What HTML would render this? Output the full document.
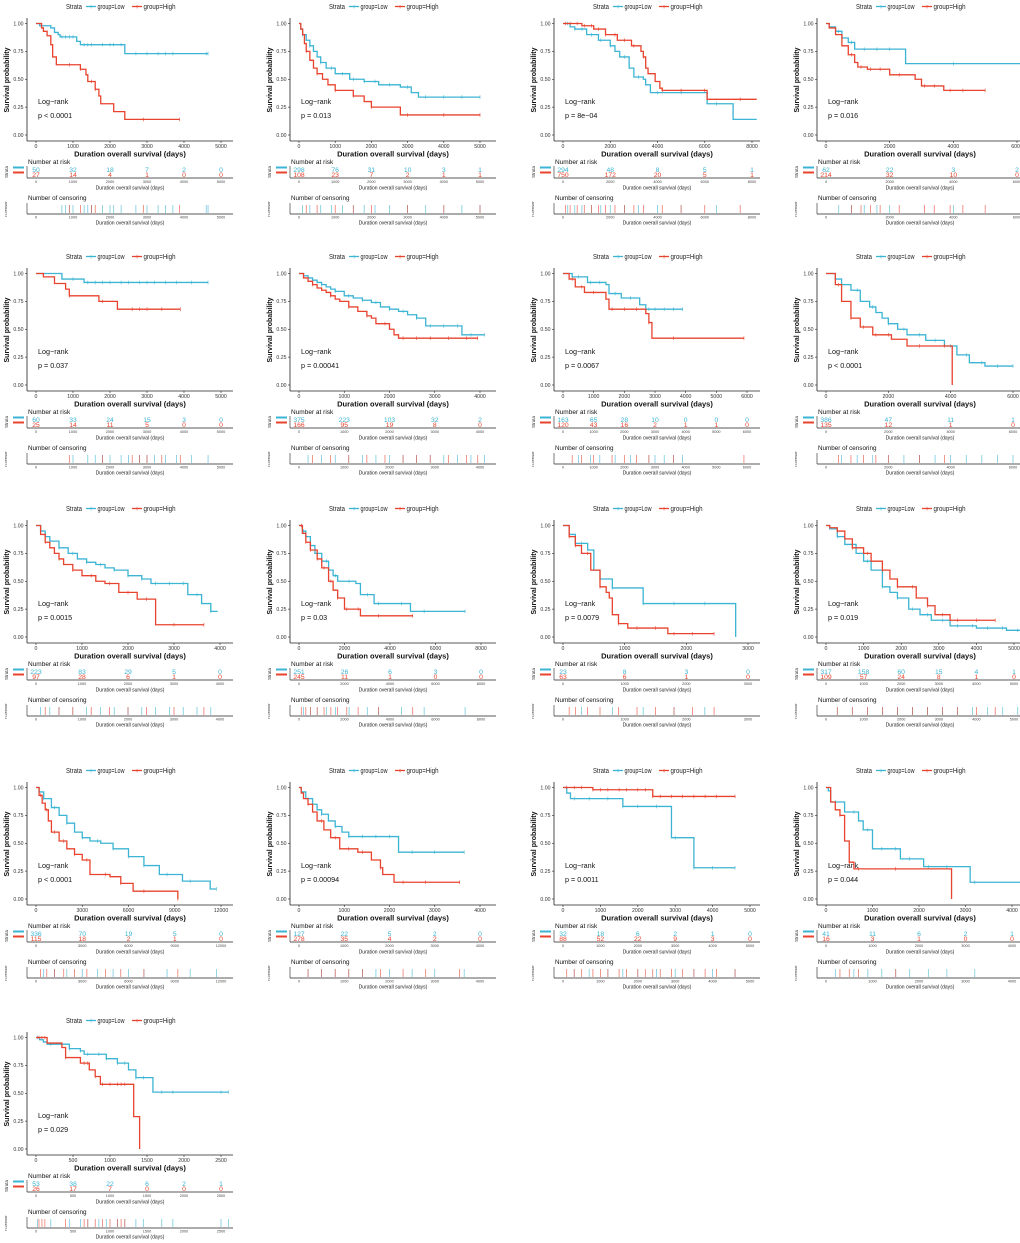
<!DOCTYPE html>
<html><head><meta charset="utf-8"><style>
html,body{margin:0;padding:0;background:#fff}
svg{display:block;font-family:"Liberation Sans",sans-serif}
</style></head><body>
<svg id="fig" width="1020" height="1243" viewBox="0 0 1020 1243" xmlns="http://www.w3.org/2000/svg"></svg>
<script>
const panelTickStep = [1000,1000,2000,2000, 1000,1000,1000,2000, 1000,2000,1000,1000, 3000,1000,1000,1000, 500];
const panelTickMax  = [5000,5000,8000,6000, 5000,4000,6000,6000, 4000,8000,3000,5000, 12000,4000,5000,4000, 2500];
const pvals = ["p < 0.0001","p = 0.013","p = 8e\u221204","p = 0.016","p = 0.037","p = 0.00041","p = 0.0067","p < 0.0001","p = 0.0015","p = 0.03","p = 0.0079","p = 0.019","p < 0.0001","p = 0.00094","p = 0.0011","p = 0.044","p = 0.029"];
const lowT = [
[100,400,500,600,650,1100,1200,2400,4650],
[50,100,200,300,400,500,600,750,1000,1400,1800,2200,2800,3100,3300,5000],
[300,500,1000,1500,2000,2200,2400,2800,3000,3400,3500,3700,6100,7200,8200],
[100,300,500,700,900,2500,6500],
[700,1300,4650],
[100,200,300,400,500,600,700,800,1000,1200,1400,1600,1800,2000,2200,2400,2600,2800,3600,4100],
[300,800,1400,1500,1900,2500,2700,3900],
[300,500,800,1100,1400,1600,1800,2000,2300,2600,3200,3800,4200,4600,5100,6000],
[100,200,300,500,700,900,1100,1300,1500,1700,2000,2300,2500,3300,3600,3800,3950],
[150,300,500,700,1000,1300,1500,1700,2500,2700,3300,4900,7300],
[100,200,400,500,600,800,1300,2800],
[100,300,500,800,1000,1200,1500,1700,1900,2200,2500,2800,3300,4000,4800,5200],
[200,500,1000,1500,2000,2500,3000,3500,4200,5000,6000,7000,8000,9500,11300,11700],
[50,150,300,400,500,650,800,950,1100,2200,3650],
[100,200,1600,2900,3500,4600],
[50,100,400,700,800,1000,1600,2100,3100,4200],
[50,100,150,450,600,650,950,1100,1250,1350,1580,2600]];
const lowS = [
[0.98,0.96,0.92,0.90,0.88,0.84,0.81,0.73,0.73],
[0.95,0.9,0.85,0.8,0.75,0.7,0.65,0.6,0.55,0.5,0.48,0.45,0.43,0.38,0.34,0.34],
[0.97,0.95,0.9,0.85,0.8,0.75,0.7,0.6,0.52,0.5,0.45,0.38,0.28,0.14,0.14],
[0.97,0.93,0.87,0.83,0.77,0.64,0.64],
[0.95,0.92,0.92],
[0.98,0.96,0.94,0.92,0.9,0.88,0.86,0.84,0.8,0.78,0.76,0.74,0.7,0.68,0.66,0.63,0.6,0.53,0.45,0.45],
[0.97,0.92,0.90,0.82,0.78,0.72,0.68,0.68],
[0.95,0.9,0.85,0.75,0.7,0.65,0.6,0.55,0.5,0.45,0.4,0.35,0.27,0.2,0.17,0.17],
[0.95,0.9,0.86,0.8,0.75,0.7,0.67,0.65,0.62,0.6,0.55,0.52,0.48,0.38,0.3,0.23,0.23],
[0.95,0.9,0.82,0.75,0.68,0.6,0.55,0.5,0.48,0.38,0.3,0.23,0.23],
[0.92,0.84,0.78,0.6,0.52,0.44,0.3,0],
[0.97,0.9,0.83,0.75,0.68,0.6,0.45,0.4,0.35,0.25,0.2,0.15,0.1,0.08,0.06,0.06],
[0.96,0.9,0.82,0.75,0.68,0.6,0.55,0.52,0.5,0.45,0.38,0.3,0.22,0.16,0.09,0.09],
[0.96,0.9,0.85,0.8,0.76,0.7,0.65,0.6,0.56,0.42,0.42],
[0.95,0.9,0.83,0.55,0.28,0.28],
[0.97,0.87,0.78,0.7,0.62,0.45,0.36,0.29,0.15,0.15],
[0.98,0.96,0.94,0.9,0.88,0.85,0.81,0.77,0.71,0.64,0.51,0.51]];
const highT = [
[150,200,300,400,450,550,1200,1350,1400,1600,1700,1750,2100,2400,3880],
[50,100,150,200,300,400,500,650,800,1000,1500,1800,2000,2800,5000],
[800,1300,1800,2300,2900,3300,3400,3500,3600,3900,4100,4200,6100,8200],
[100,300,500,700,900,1000,1300,2000,2800,3000,3700,5000],
[200,500,800,900,1700,2200,3900],
[100,200,300,400,500,600,700,800,900,1100,1300,1500,1600,1700,2000,2100,2200,3950],
[200,400,700,1400,1500,2700,2800,2900,5900],
[300,500,800,1100,1500,2100,2600,4050],
[100,200,300,400,500,600,800,1000,1300,1500,1800,2200,2600,3650],
[150,300,500,800,1000,1300,1500,1700,2000,2700,5000],
[100,200,300,450,600,700,750,800,900,1050,1700,2450],
[100,300,500,700,1000,1200,1500,1700,1900,2400,2700,2900,3300,4500],
[200,400,600,800,1000,1500,2000,2500,3000,3500,4800,5500,6300,9200],
[50,100,200,300,400,550,700,900,1300,1600,1800,1850,2100,3550],
[800,2400,4600],
[100,200,300,400,500,600,2700],
[150,350,400,600,720,800,870,1320,1400]];
const highS = [
[0.96,0.93,0.89,0.81,0.70,0.63,0.59,0.54,0.48,0.41,0.35,0.28,0.21,0.14,0.14],
[0.95,0.9,0.82,0.75,0.67,0.6,0.55,0.5,0.45,0.4,0.35,0.3,0.25,0.18,0.18],
[0.98,0.95,0.9,0.85,0.8,0.75,0.7,0.6,0.55,0.48,0.42,0.40,0.32,0.32],
[0.96,0.9,0.8,0.72,0.65,0.61,0.59,0.54,0.5,0.44,0.40,0.40],
[0.97,0.91,0.86,0.80,0.75,0.68,0.68],
[0.96,0.93,0.9,0.87,0.85,0.83,0.8,0.77,0.75,0.7,0.66,0.62,0.6,0.55,0.5,0.45,0.42,0.42],
[0.95,0.88,0.83,0.77,0.68,0.64,0.56,0.42,0.42],
[0.9,0.75,0.6,0.52,0.45,0.41,0.35,0],
[0.92,0.85,0.8,0.75,0.7,0.65,0.6,0.55,0.5,0.48,0.4,0.34,0.11,0.11],
[0.93,0.85,0.78,0.7,0.62,0.5,0.42,0.35,0.25,0.19,0.19],
[0.9,0.82,0.75,0.6,0.45,0.4,0.35,0.2,0.12,0.08,0.03,0.03],
[0.98,0.95,0.88,0.8,0.75,0.68,0.6,0.52,0.45,0.35,0.28,0.2,0.15,0.15],
[0.93,0.86,0.8,0.7,0.6,0.52,0.45,0.4,0.35,0.22,0.2,0.14,0.07,0],
[0.95,0.9,0.85,0.78,0.7,0.62,0.55,0.45,0.42,0.35,0.28,0.22,0.15,0.15],
[0.98,0.92,0.92],
[0.87,0.8,0.75,0.52,0.33,0.27,0],
[0.95,0.91,0.82,0.77,0.71,0.65,0.58,0.29,0]];
const censorLow = [
[700,800,900,1000,1300,1400,1500,1800,2000,2100,2300,2700,3000,3300,3500,3700,4600,4650],
[100,300,600,900,1200,1500,1800,2100,2500,3000,3500,4000,4500,5000],
[200,500,800,1200,1600,2000,2600,3200,4000,5000,6500],
[400,800,1200,1600,2000,4000,6500],
[1000,1400,1600,1800,2000,2300,2500,2800,3000,3200,3500,3800,4200,4650],
[200,500,800,1100,1400,1700,2000,2300,2600,2900,3200,3500,3800,4100],
[500,900,1200,1700,2200,2800,3000,3300,3600,3900],
[500,1000,1500,2000,2500,3000,3500,4000,4500,5000,5500,6000],
[100,300,500,800,1100,1400,1700,2000,2300,2600,2900,3200,3500,3800],
[200,500,800,1200,1600,2200,3000,3500,4500,5500,7300],
[300,800,1300,1800,2300],
[300,700,1100,1500,1900,2300,2700,3100,3500,3900,4300,4700,5100],
[500,1200,2000,3000,4000,5000,6000,7000,8500,10000,11700],
[200,500,800,1100,1400,1700,2000,2500,3000,3650],
[300,700,1200,1600,2000,2500,3000,3500,4000,4600],
[200,600,900,1200,1500,1800,2200,2600,3200,4200],
[20,200,450,600,700,850,950,1100,1200,1350,1450,1700,1850,2500,2600]];
const censorHigh = [
[900,1200,1500,1600,2900,3880],
[200,500,1000,1500,2000,3000,4000,5000],
[100,300,600,900,1200,1500,1800,2200,2600,3000,3400,4200,5000,6000,7500],
[800,1100,1400,1700,2300,3100,3400,3900,4300,5000],
[900,1800,2600,2800,3000,3400,3900],
[300,700,1100,1500,1900,2300,2600,2900,3300,3700,3950],
[300,600,1000,1600,2000,2400,2800,3600,5900],
[400,800,1200,1600,2000,3000,3800],
[200,500,800,1200,1600,2000,2400,3000,3650],
[100,300,500,800,1100,1400,1700,2100,2600,3500,5000],
[100,200,400,600,900,1200,1500,1800,2100,2450],
[300,700,1100,1500,1900,2300,2700,3100,3500,4000,4500],
[300,700,1200,1800,2500,3300,4500,5500,7000,9200],
[200,500,800,1100,1400,1800,2300,2800,3550],
[100,300,500,800,1000,1200,1500,1700,2000,2200,2400,2600,2900,3200,3500,3800,4100,4600],
[300,500,700,1500],
[40,80,120,400,650,700,800,900,1000,1100,1150,1200]];
const riskLow = [
[50,32,18,7,2,0],[298,76,31,10,3,1],[294,48,8,5,1],[62,22,3,2],
[60,33,24,15,3,0],[375,223,103,32,2],[163,65,28,10,0,0,0],[386,47,11,1],
[223,83,29,5,0],[251,26,6,3,0],[23,8,3,0],[317,158,60,15,4,1],
[336,70,19,5,0],[127,22,5,2,0],[32,18,6,2,1,0],[41,11,6,2,1],
[53,38,22,6,2,1]];
const riskHigh = [
[27,14,4,1,0,0],[108,23,7,2,1,1],[750,172,20,5,1],[214,32,10,0],
[25,14,11,5,0,0],[166,95,19,8,0],[120,43,16,2,1,1,0],[135,12,1,0],
[97,28,6,1,0],[245,11,1,0,0],[63,6,1,0],[109,57,24,8,1,0],
[115,18,2,1,0],[278,35,4,2,0],[88,52,22,9,3,0],[16,3,1,0,0],
[26,17,7,0,0,0]];

const panelLastPx = [221,217,225,227, 221,217,220,223, 220,218,221,224, 221,217,223,222, 221];
const colX = [0,263,527,790];
const rowY = [0,250,502,764,1014];
const LOW = '#3cb4d3', HIGH = '#e8432e';
const NS = 'http://www.w3.org/2000/svg';
const svg = document.getElementById('fig');

function mk(tag, attrs, parent, text) {
  const e = document.createElementNS(NS, tag);
  for (const k in attrs) e.setAttribute(k, attrs[k]);
  if (text !== undefined) e.textContent = text;
  (parent || svg).appendChild(e);
  return e;
}

for (let p = 0; p < 17; p++) {
  const ox = colX[p % 4], oy = rowY[Math.floor(p / 4)];
  const g = mk('g', {transform: 'translate(' + ox + ',' + oy + ')'});
  
  
  const tmax = panelTickMax[p], step = panelTickStep[p];
  const xs = v => 36 + v / tmax * (panelLastPx[p] - 36);
  const ys = s => 135 - s * 111.5;

  // legend
  const lg = mk('g', {}, g);
  
  
  mk('text', {x: 66, y: 9, 'font-size': 7, fill: '#222', textLength: 16, lengthAdjust: 'spacingAndGlyphs'}, lg, 'Strata');
  mk('line', {x1: 86, x2: 96, y1: 6.5, y2: 6.5, stroke: LOW, 'stroke-width': 1.3}, lg);
  mk('text', {x: 91, y: 9.2, 'font-size': 7, fill: LOW, 'text-anchor': 'middle'}, lg, '+');
  mk('text', {x: 97.5, y: 9, 'font-size': 7, fill: '#222', textLength: 27, lengthAdjust: 'spacingAndGlyphs'}, lg, 'group=Low');
  mk('line', {x1: 132, x2: 142, y1: 6.5, y2: 6.5, stroke: HIGH, 'stroke-width': 1.3}, lg);
  mk('text', {x: 137, y: 9.2, 'font-size': 7, fill: HIGH, 'text-anchor': 'middle'}, lg, '+');
  mk('text', {x: 143.5, y: 9, 'font-size': 7, fill: '#222', textLength: 32, lengthAdjust: 'spacingAndGlyphs'}, lg, 'group=High');

  // axes
  mk('line', {x1: 27, x2: 27, y1: 18, y2: 141, stroke: '#222', 'stroke-width': 0.8}, g);
  mk('line', {x1: 27, x2: 233, y1: 141, y2: 141, stroke: '#222', 'stroke-width': 0.8}, g);
  [0, 0.25, 0.5, 0.75, 1].forEach(v => {
    mk('line', {x1: 25, x2: 27, y1: ys(v), y2: ys(v), stroke: '#222', 'stroke-width': 0.6}, g);
    mk('text', {x: 23.5, y: ys(v) + 1.8, 'font-size': 5.2, 'text-anchor': 'end', fill: '#333'}, g, v.toFixed(2));
  });
  for (let t = 0; t <= tmax + 1e-6; t += step) {
    mk('line', {x1: xs(t), x2: xs(t), y1: 141, y2: 143, stroke: '#222', 'stroke-width': 0.6}, g);
    mk('text', {x: xs(t), y: 148, 'font-size': 5.2, 'text-anchor': 'middle', fill: '#333'}, g, String(t));
  }
  const yt = mk('text', {x: 0, y: 0, 'font-size': 7, 'font-weight': 'bold', 'text-anchor': 'middle', transform: 'translate(9,80) rotate(-90)', fill: '#111'}, g, 'Survival probability');
  
  
  const xt = mk('text', {x: 130, y: 156.5, 'font-size': 7.5, 'font-weight': 'bold', 'text-anchor': 'middle', fill: '#111'}, g, 'Duration overall survival (days)');
  
  
  mk('text', {x: 38, y: 104, 'font-size': 7.2, fill: '#111'}, g, 'Log\u2212rank');
  const pv = mk('text', {x: 38, y: 118, 'font-size': 7.2, fill: '#111'}, g, pvals[p]);
  
  

  // curves
  const curves = [[lowT[p], lowS[p], censorLow[p], LOW, 'low'], [highT[p], highS[p], censorHigh[p], HIGH, 'high']];
  curves.forEach(([T, S, C, col, nm]) => {
    let d = 'M' + xs(0) + ' ' + ys(1);
    for (let i = 0; i < T.length; i++) {
      d += ' H' + xs(T[i]).toFixed(2) + ' V' + ys(S[i]).toFixed(2);
    }
    const path = mk('path', {d: d, fill: 'none', stroke: col, 'stroke-width': 1.3}, g);
    
    
    const sAt = t => { let s = 1; for (let i = 0; i < T.length; i++) { if (T[i] <= t) s = S[i]; } return s; };
    C.forEach(t => {
      const lastT = T[T.length - 1];
      if (t > lastT) return;
      const s = sAt(t);
      mk('line', {x1: xs(t), x2: xs(t), y1: ys(s) - 1.8, y2: ys(s) + 1.8, stroke: col, 'stroke-width': 0.6}, g);
      mk('line', {x1: xs(t), x2: xs(t), y1: 205, y2: 213, stroke: col, 'stroke-width': 0.7, opacity: 0.8}, g);
    });
  });

  // risk table
  mk('text', {x: 28, y: 164, 'font-size': 6.5, fill: '#111'}, g, 'Number at risk');
  mk('rect', {x: 13, y: 166.5, width: 11, height: 2, fill: LOW}, g);
  mk('rect', {x: 13, y: 171.5, width: 11, height: 2, fill: HIGH}, g);
  mk('text', {x: 0, y: 0, 'font-size': 4.5, 'text-anchor': 'middle', transform: 'translate(8,172) rotate(-90)', fill: '#333'}, g, 'Strata');
  mk('line', {x1: 27, x2: 27, y1: 166, y2: 178, stroke: '#222', 'stroke-width': 0.6}, g);
  mk('line', {x1: 27, x2: 233, y1: 178, y2: 178, stroke: '#222', 'stroke-width': 0.8}, g);
  riskLow[p].forEach((n, i) => {
    const t = i * step;
    const rt = mk('text', {x: xs(t), y: 172, 'font-size': 6.8, 'text-anchor': 'middle', fill: LOW}, g, String(n));
    
    
  });
  riskHigh[p].forEach((n, i) => {
    const t = i * step;
    const rt = mk('text', {x: xs(t), y: 177, 'font-size': 6.8, 'text-anchor': 'middle', fill: HIGH}, g, String(n));
    
    
  });
  for (let t = 0; t <= tmax + 1e-6; t += step) {
    mk('text', {x: xs(t), y: 183, 'font-size': 3.8, 'text-anchor': 'middle', fill: '#444'}, g, String(t));
    mk('text', {x: xs(t), y: 218.5, 'font-size': 3.8, 'text-anchor': 'middle', fill: '#444'}, g, String(t));
  }
  mk('text', {x: 130, y: 189.5, 'font-size': 5, 'text-anchor': 'middle', fill: '#222'}, g, 'Duration overall survival (days)');

  // censoring
  mk('text', {x: 28, y: 200, 'font-size': 6.3, fill: '#111'}, g, 'Number of censoring');
  mk('text', {x: 0, y: 0, 'font-size': 4, 'text-anchor': 'middle', transform: 'translate(7,209) rotate(-90)', fill: '#333'}, g, 'n.censor');
  mk('line', {x1: 27, x2: 27, y1: 203, y2: 214, stroke: '#222', 'stroke-width': 0.6}, g);
  mk('line', {x1: 27, x2: 233, y1: 214, y2: 214, stroke: '#222', 'stroke-width': 0.8}, g);
  mk('text', {x: 130, y: 224.5, 'font-size': 5, 'text-anchor': 'middle', fill: '#222'}, g, 'Duration overall survival (days)');
}
</script>
</body></html>
